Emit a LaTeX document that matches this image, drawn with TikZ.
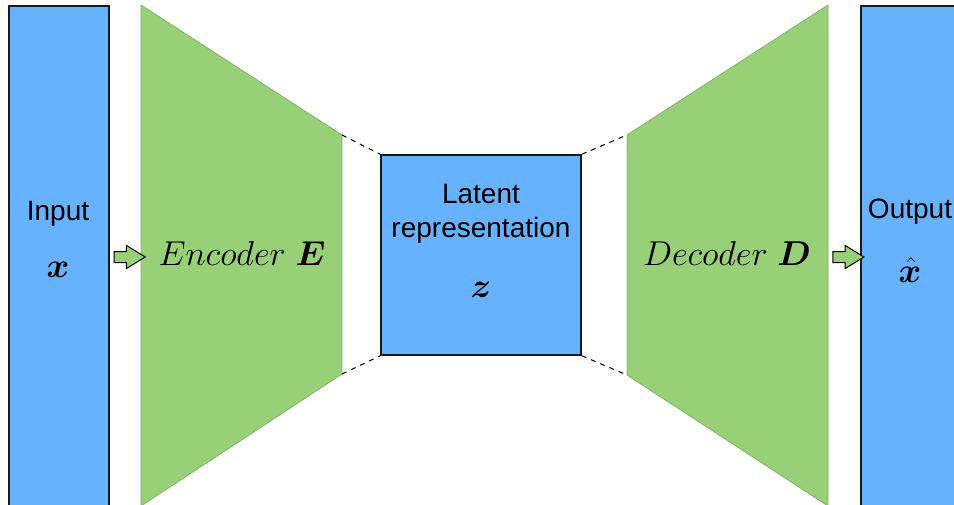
\RequirePackage{fix-cm}
\documentclass[tikz,border=0pt]{standalone}
\usepackage{amsmath}
\usepackage{bm}
\usepackage{fontspec}
\setmainfont{Liberation Sans}
\usetikzlibrary{shapes,arrows,positioning,calc}
\definecolor{boxblue}{HTML}{66B2FF}
\definecolor{netgreen}{HTML}{97D077}
\definecolor{netedge}{HTML}{82B366}

\begin{document}
\begin{tikzpicture}[x=1pt, y=-1pt,
    block/.style={rectangle, draw=black!90, line width=1.5pt, fill=boxblue, minimum width=100pt, inner sep=0pt},
    net/.style={draw=netedge, line width=0.8pt, fill=netgreen},
    label/.style={font=\fontsize{28}{34}\selectfont, align=center},
    mathlabel/.style={font=\fontsize{34.5}{40}\selectfont},
    fatarrow/.style={single arrow, draw=black, line width=1pt, fill=netgreen, inner xsep=0pt, inner ysep=5pt, single arrow head extend=6pt, single arrow tip angle=63, minimum height=31pt},
    link/.style={dashed, line width=1pt, dash pattern=on 5pt off 5pt}]

    \useasboundingbox (0,0) rectangle (954,504);
    \clip (0,0) rectangle (954,504);

    % boxes
    \node[block, minimum height=503pt, anchor=north west] (input) at (8,5) {};
    \node[block, minimum height=503pt, anchor=north west] (output) at (860,5) {};
    \node[block, minimum width=200pt, minimum height=200pt] (latent) at (481,255) {};

    % encoder / decoder
    \coordinate (enctl) at (141,5);
    \coordinate (enctr) at (342,135);
    \coordinate (encbr) at (342,374);
    \coordinate (encbl) at (141,506);
    \coordinate (dectl) at (627,135);
    \coordinate (dectr) at (828,5);
    \coordinate (decbr) at (828,506);
    \coordinate (decbl) at (627,375);
    \draw[net] (enctl) -- (enctr) -- (encbr) -- (encbl) -- cycle;
    \draw[net] (dectl) -- (dectr) -- (decbr) -- (decbl) -- cycle;

    % texts
    \node[label] (intext) at (58,214) {Input};
    \node[mathlabel] (inx) at (58,270) {$\bm{x}$};
    \node[label] (outtext) at (910,212) {Output};
    \node[mathlabel] (outx) at (910,270) {$\bm{\hat{x}}$};
    \node[label] (lattext) at (481,214) {Latent\\representation};
    \node[mathlabel] (latz) at (481,290) {$\bm{z}$};
    \node[mathlabel] (enctext) at (242,254) {$Encoder\ \bm{E}$};
    \node[mathlabel] (dectext) at (727,254) {$Decoder\ \bm{D}$};

    % arrows
    \node[fatarrow] (arrin) at ($(input.east |- 0,257)!0.5!(enctl |- 0,257)$) {};
    \node[fatarrow] (arrout) at ($(dectr |- 0,257)!0.5!(output.west |- 0,257)$) {};

    % dashed links
    \draw[link] (enctr) -- (latent.north west);
    \draw[link] (encbr) -- (latent.south west);
    \draw[link] (latent.north east) -- (dectl);
    \draw[link] (latent.south east) -- (decbl);
\end{tikzpicture}
\end{document}
